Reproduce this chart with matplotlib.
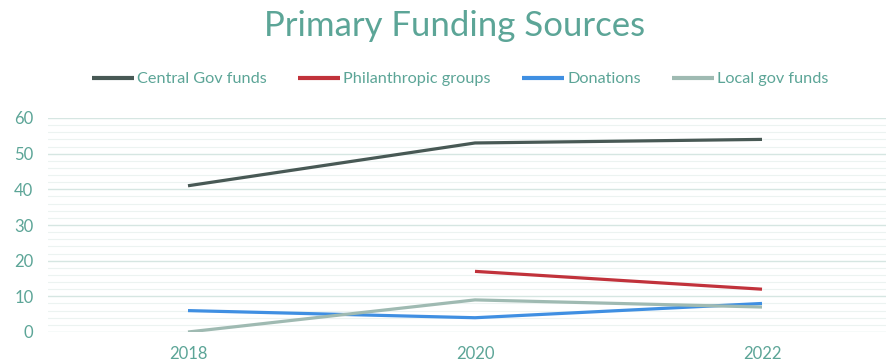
import matplotlib
matplotlib.use("Agg")
import matplotlib.pyplot as plt
import numpy as np
from matplotlib.ticker import MultipleLocator

plt.rcParams['font.family'] = ['Lato', 'DejaVu Sans']

years = [2018, 2020, 2022]
central_gov = [41, 53, 54]
philanthropic = [np.nan, 17, 12]
donations = [6, 4, 8]
local_gov = [0, 9, 7]

series_names = ["Central Gov funds", "Philanthropic groups", "Donations", "Local gov funds"]
series_colors = ["#485955", "#c1323b", "#3f8fe2", "#9fbab2"]
text_color = "#5ca597"
grid_major = "#d6e6e2"
grid_minor = "#ecf3f1"

W, H = 887, 362
fig = plt.figure(figsize=(W / 100, H / 100), dpi=100)

left_px, right_px = 48, 887
top_px, bottom_px = 118, 332
ax = fig.add_axes([left_px / W, 1 - bottom_px / H,
                   (right_px - left_px) / W, (bottom_px - top_px) / H])

for vals, name, col in zip([central_gov, philanthropic, donations, local_gov],
                           series_names, series_colors):
    ax.plot(years, vals, color=col, lw=2.3, label=name, solid_capstyle='butt')

# x scale: 143.5 px per year, 2018 centred at x=188 px
px_per_year = (475 - 188) / 2
ax.set_xlim(2018 - (188 - left_px) / px_per_year, 2018 + (right_px - 188) / px_per_year)
ax.set_ylim(0, 60)
ax.set_xticks(years)
ax.set_xticklabels([str(y) for y in years])
ax.yaxis.set_major_locator(MultipleLocator(10))
ax.yaxis.set_minor_locator(MultipleLocator(2))
ax.grid(axis='y', which='major', color=grid_major, lw=1.0)
ax.grid(axis='y', which='minor', color=grid_minor, lw=0.8)
ax.set_axisbelow(True)
for s in ax.spines.values():
    s.set_visible(False)
ax.tick_params(axis='both', which='both', length=0, colors=text_color, labelsize=12)
ax.tick_params(axis='y', pad=10.5)
ax.tick_params(axis='x', pad=10)
for lbl in ax.get_yticklabels() + ax.get_xticklabels():
    lbl.set_color(text_color)

fig.text(455 / W, 1 - 26 / H, "Primary Funding Sources", ha='center', va='center',
         fontsize=25, color=text_color, fontweight='normal')

leg = fig.legend(loc='center', bbox_to_anchor=(460 / W, 1 - 79 / H), ncol=4,
                 frameon=False, fontsize=11.7, handlelength=2.6, handletextpad=0.2,
                 columnspacing=1.9)
for t in leg.get_texts():
    t.set_color(text_color)
for h in leg.legend_handles:
    h.set_linewidth(3.0)

fig.savefig("out.png", dpi=100)
